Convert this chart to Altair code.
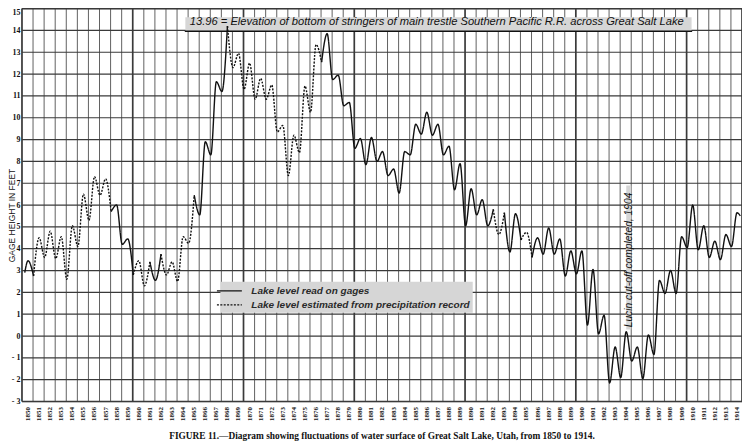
import altair as alt
import pandas as pd

# ---------------- data ----------------
years = list(range(1850, 1915))

# yearly high (early summer) gage heights, 1850..1914
peaks = [3.45, 4.5, 4.8, 4.55, 5.05, 6.5, 7.3, 7.2, 6.0, 4.45,
         3.45, 3.4, 3.75, 3.4, 4.55, 6.45, 8.9, 11.65, 14.2, 12.95,
         12.5, 11.8, 11.5, 9.65, 9.2, 11.45, 13.35, 13.85, 11.95, 10.7,
         9.05, 9.1, 8.45, 7.65, 8.45, 9.7, 10.25, 9.7, 8.7, 7.9,
         6.75, 6.25, 5.8, 5.65, 5.6, 4.75, 4.5, 4.95, 4.45, 3.9,
         3.9, 3.05, 0.95, -0.5, 0.2, -0.5, 0.05, 2.55, 3.0, 4.55,
         6.0, 5.05, 4.35, 4.65, 5.65]

# year-end low gage heights, 1850..1913
troughs = [2.75, 3.6, 3.55, 2.6, 4.1, 5.3, 6.45, 5.7, 4.2, 2.8,
           2.3, 2.55, 2.8, 2.5, 4.25, 5.55, 8.3, 11.2, 12.3, 11.3,
           10.85, 10.85, 9.35, 7.35, 8.4, 10.25, 12.55, 11.75, 10.55, 8.6,
           7.85, 8.0, 7.35, 6.55, 8.3, 9.25, 9.2, 8.3, 6.7, 5.05,
           5.55, 5.05, 4.65, 3.85, 4.4, 3.6, 3.75, 3.75, 2.75, 2.85,
           0.5, 0.1, -2.15, -1.9, -1.15, -1.95, -0.85, 1.95, 1.95, 4.05,
           3.95, 3.6, 3.5, 4.1]

start_level = 2.9
end_level = 5.5

solid_label = "Lake level read on gages"
dashed_label = "Lake level estimated from precipitation record"

seg_bounds = [1850.25, 1851.05, 1858.05, 1860.05, 1861.55, 1862.55, 1865.55,
              1868.55, 1877.05, 1892.55, 1893.55, 1895.05, 1896.05, 1914.85]
seg_kinds = ["s", "d", "s", "d", "s", "d", "s", "d", "s", "d", "s", "d", "s"]

stringer_level = 13.96
stringer_text = ("13.96 = Elevation of bottom of stringers of main trestle "
                 "Southern Pacific R.R. across Great Salt Lake")
lucin_text = "Lucin cut-off completed, 1904"
caption = ("FIGURE 11.\u2014Diagram showing fluctuations of water surface of "
           "Great Salt Lake, Utah, from 1850 to 1914.")

# ---------------- build tables ----------------
pts = [(1850.25, start_level)]
for i, yr in enumerate(years):
    pts.append((round(yr + 0.55, 2), peaks[i]))
    if i < len(troughs):
        pts.append((round(yr + 1.05, 2), troughs[i]))
pts.append((1914.85, end_level))

rows = []
for k, kind in enumerate(seg_kinds):
    lo, hi = seg_bounds[k], seg_bounds[k + 1]
    lab = solid_label if kind == "s" else dashed_label
    for x, v in pts:
        if lo - 1e-6 <= x <= hi + 1e-6:
            rows.append({"x": x, "v": v, "seg": k, "style": lab})
curve_df = pd.DataFrame(rows)

vlines = pd.DataFrame({"x": list(range(1850, 1916))})
vlines["w"] = [1.7 if (x % 10 == 0 or x in (1850, 1915)) else 0.8 for x in vlines["x"]]
hlines = pd.DataFrame({"y": list(range(-3, 16))})
hlines["w"] = [1.7 if y in (-3, 15) else 1.2 for y in hlines["y"]]

BG = "#d6d6d6"
GRID = "#3a3a3a"
INK = "#111111"

xs = alt.Scale(domain=[1850, 1915], nice=False, zero=False)
ys = alt.Scale(domain=[-3, 15], nice=False, zero=False)

XAX = alt.Axis(
    values=[y + 0.5 for y in years], labelExpr="'' + floor(datum.value)",
    title=None, domain=False, ticks=False, grid=False,
    labelAngle=270, labelFont="Liberation Serif", labelFontWeight="bold",
    labelFontSize=7, labelColor=INK, labelPadding=5,
    labelOverlap=False, labelFlush=False,
)
YAX = alt.Axis(
    values=list(range(-3, 16)),
    labelExpr="datum.value < 0 ? '- ' + abs(datum.value) : '' + datum.value",
    labelBaseline={"condition": {"test": "datum.value >= 15", "value": "top"},
                   "value": "middle"},
    title="GAGE HEIGHT IN FEET", titleX=-14, titleY=207, titleAngle=270,
    titleAlign="center", titleBaseline="top", titleFont="Liberation Sans",
    titleFontSize=8.5, titleFontWeight="normal", titleColor=INK,
    domain=False, ticks=False, grid=False,
    labelFont="Liberation Serif", labelFontWeight="bold", labelFontSize=8,
    labelColor=INK, labelPadding=2,
)

vgrid = alt.Chart(vlines).mark_rule(color=GRID).encode(
    x=alt.X("x:Q", scale=xs, axis=XAX),
    size=alt.Size("w:Q", scale=None, legend=None),
)
hgrid = alt.Chart(hlines).mark_rule(color=GRID).encode(
    y=alt.Y("y:Q", scale=ys, axis=YAX),
    size=alt.Size("w:Q", scale=None, legend=None),
)

# blank panels behind annotations
blank_df = pd.DataFrame({
    "x1": [1864.75, 1904.55], "x2": [1910.45, 1905.0],
    "y1": [stringer_level, 0.3], "y2": [14.6, 6.9],
})
blanks = alt.Chart(blank_df).mark_rect(color=BG).encode(
    x=alt.X("x1:Q", scale=xs, axis=XAX), x2="x2:Q",
    y=alt.Y("y1:Q", scale=ys, axis=YAX), y2="y2:Q",
)

stringer_df = pd.DataFrame({"x1": [1864.7], "x2": [1910.5], "y": [stringer_level]})
stringer_rule = alt.Chart(stringer_df).mark_rule(color=INK, strokeWidth=1.6).encode(
    x=alt.X("x1:Q", scale=xs, axis=XAX), x2="x2:Q",
    y=alt.Y("y:Q", scale=ys, axis=YAX),
)

texts_df = pd.DataFrame({"x": [1865.15], "y": [14.27], "t": [stringer_text]})
stringer_txt = alt.Chart(texts_df).mark_text(
    align="left", baseline="alphabetic", font="Liberation Sans",
    fontStyle="italic", fontSize=11.2, color=INK,
).encode(
    x=alt.X("x:Q", scale=xs, axis=XAX),
    y=alt.Y("y:Q", scale=ys, axis=YAX),
    text="t:N",
)

lucin_df = pd.DataFrame({"x": [1904.77], "y": [0.4], "t": [lucin_text]})
lucin_txt = alt.Chart(lucin_df).mark_text(
    align="left", baseline="middle", angle=270, font="Liberation Sans",
    fontStyle="italic", fontSize=10.3, color=INK,
).encode(
    x=alt.X("x:Q", scale=xs, axis=XAX),
    y=alt.Y("y:Q", scale=ys, axis=YAX),
    text="t:N",
)

curve = alt.Chart(curve_df).mark_line(
    interpolate="monotone", color=INK, strokeWidth=1.4,
).encode(
    x=alt.X("x:Q", scale=xs, axis=XAX),
    y=alt.Y("v:Q", scale=ys, axis=YAX),
    detail="seg:N",
    strokeDash=alt.StrokeDash("style:N", scale=alt.Scale(
        domain=[solid_label, dashed_label], range=[[1, 0], [2, 1.4]]),
        legend=alt.Legend(
            orient="none", legendX=199, legendY=274, title=None,
            symbolType="M-2.5,0H2.5", symbolSize=100, symbolStrokeWidth=1.3,
            symbolStrokeColor=INK, symbolFillColor="transparent",
            labelFont="Liberation Sans",
            labelFontStyle="italic", labelFontWeight="bold", labelFontSize=10,
            labelColor="#2a2a2a", labelOffset=16, fillColor=BG, padding=3,
            rowPadding=3, labelLimit=400,
        )),
)

chart = alt.layer(
    vgrid, hgrid, blanks, stringer_rule, stringer_txt, lucin_txt, curve
).properties(
    width=722, height=394,
    autosize=alt.AutoSizeParams(type="none"),
    padding={"left": 14, "top": 0, "right": 0, "bottom": 40},
    title=alt.TitleParams(
        text=caption, orient="bottom", anchor="middle",
        font="Liberation Serif", fontSize=9.4, fontWeight="bold",
        color=INK, offset=12,
    ),
).configure_view(fill=BG, stroke="transparent").configure(background="white")

chart.save("out.html", embed_options={"renderer": "svg", "actions": False})
